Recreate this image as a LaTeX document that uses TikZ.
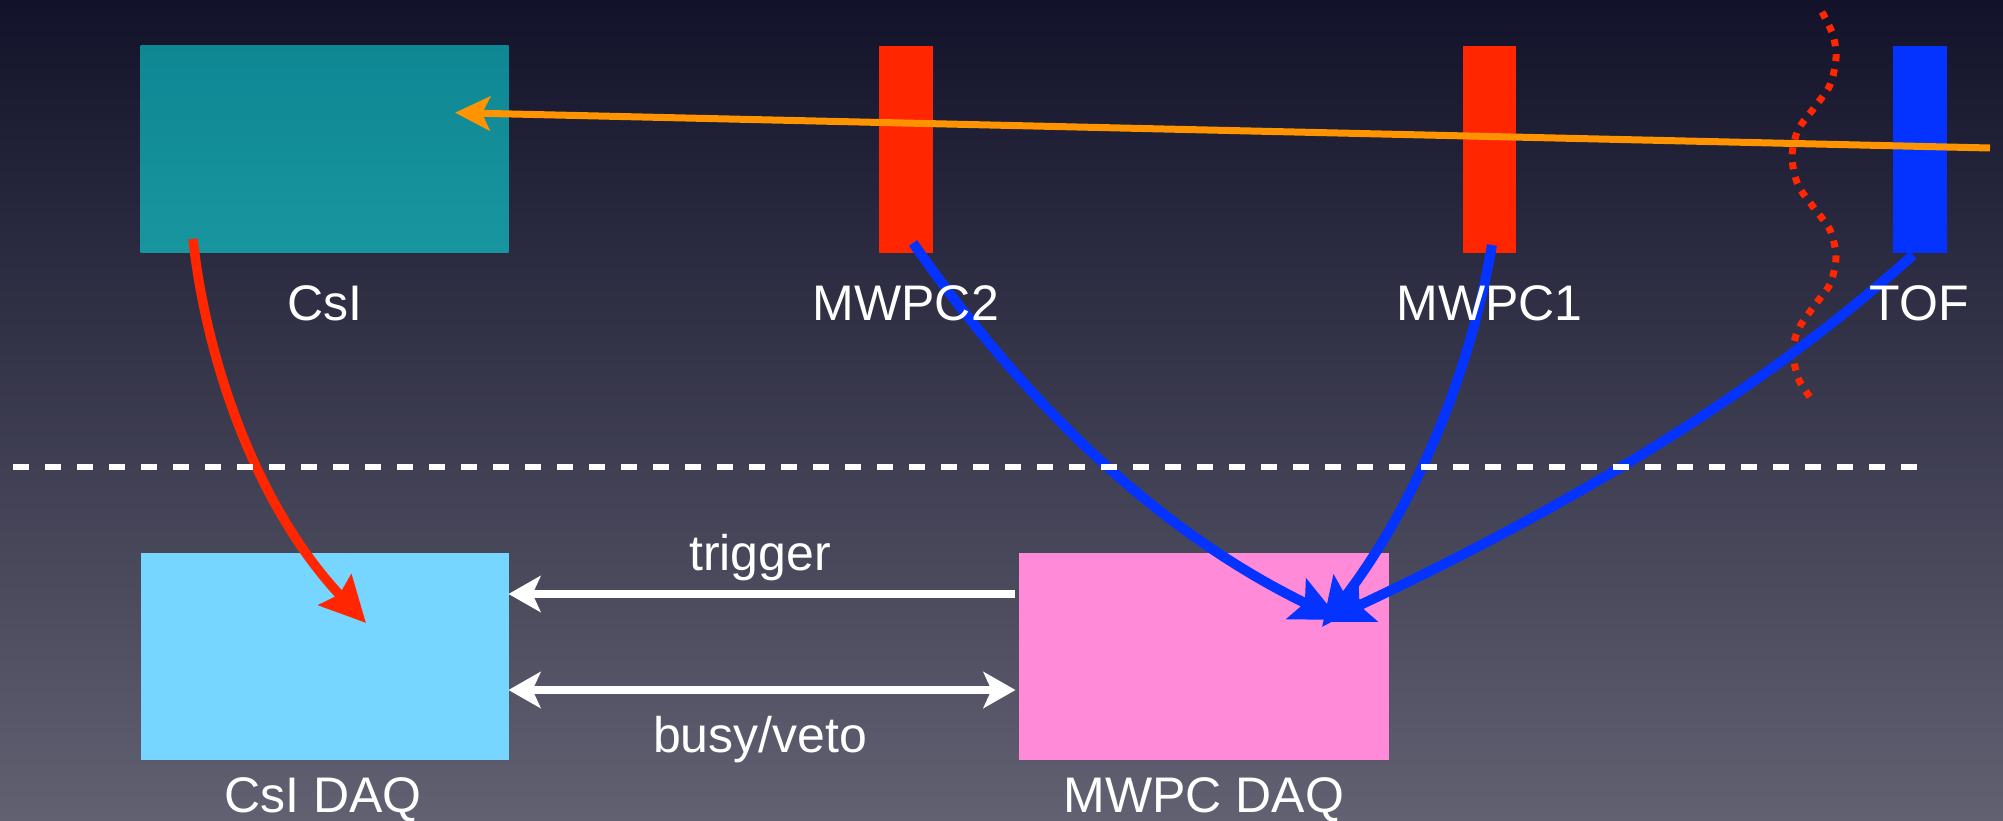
\documentclass[tikz,border=0pt]{standalone}
\usepackage{fontspec}
\setmainfont{Liberation Sans}
\usetikzlibrary{arrows.meta}

\definecolor{bgtop}{RGB}{18,18,42}
\definecolor{bgbot}{RGB}{98,97,114}
\definecolor{csitop}{RGB}{14,135,147}
\definecolor{csibot}{RGB}{24,150,160}
\definecolor{wirered}{RGB}{255,38,0}
\definecolor{tofblue}{RGB}{4,51,255}
\definecolor{skyblue}{RGB}{118,214,255}
\definecolor{daqpink}{RGB}{255,138,216}
\definecolor{beamorange}{RGB}{255,147,0}

\tikzset{
  detector/.style={inner sep=0pt, outer sep=0pt, draw=none, minimum height=207pt},
  lbl/.style={text=white, font=\fontsize{50}{60}\selectfont, anchor=base, inner sep=0pt},
  beamline/.style={draw=beamorange, line width=7pt, -{Stealth[length=35pt,width=34pt,inset=8pt]}},
  readout/.style={draw=tofblue, line width=10pt, -{Stealth[length=48pt,width=44pt,inset=9pt]}},
  csiline/.style={draw=wirered, line width=9.5pt, -{Stealth[length=45pt,width=44pt,inset=6pt]}},
  daqlink/.style={draw=white, line width=7.5pt},
  whitehead/.tip={Stealth[length=32pt,width=36pt,inset=8pt]},
  separator/.style={draw=white, line width=6.5pt, dash pattern=on 16pt off 16pt},
  waveline/.style={draw=wirered, line width=7pt, dash pattern=on 7pt off 8pt}
}

\begin{document}
\begin{tikzpicture}[x=1pt, y=-1pt]
  % background
  \useasboundingbox (0,0) rectangle (2003,821);
  \shade[top color=bgtop, bottom color=bgbot] (0,0) rectangle (2003,821);

  % detectors
  \node[detector, minimum width=368pt, top color=csitop, bottom color=csibot] (csi) at (324.5,149.5) {};
  \node[detector, minimum width=53.5pt, fill=wirered] (mwpc2) at (905.8,149.5) {};
  \node[detector, minimum width=53.5pt, fill=wirered] (mwpc1) at (1489.5,149.5) {};
  \node[detector, minimum width=53.5pt, fill=tofblue] (tof) at (1920,149.5) {};

  % DAQ boxes
  \node[detector, minimum width=368pt, fill=skyblue] (csidaq) at (324.5,656.7) {};
  \node[detector, minimum width=369.5pt, fill=daqpink] (mwpcdaq) at (1204,656.7) {};

  % wavy boundary near TOF
  \draw[waveline] plot[smooth] coordinates {
    (1822,12) (1833,35) (1836,58) (1830,85) (1814,108) (1798,130) (1792,157)
    (1798,185) (1814,208) (1830,230) (1836,257) (1830,284) (1814,306)
    (1799,328) (1793,350) (1798,378) (1812,400)};

  % beam
  \coordinate (beamsrc) at (1990,148);
  \coordinate (csihit) at (455,112.7);
  \draw[beamline] (beamsrc) -- (csihit);

  % readout connections
  \coordinate (csiout) at (193,239);
  \coordinate (csidaqin) at (366,623);
  \draw[csiline] (csiout) .. controls +(12,111) and +(-115,-123) .. (csidaqin);

  \coordinate (mwpc2out) at (913,243);
  \coordinate (mwpc1out) at (1492,245);
  \coordinate (tofout) at (1913,255);
  \coordinate (daqinA) at (1340,620);
  \coordinate (daqinB) at (1322,627);
  \coordinate (daqinC) at (1324,622);
  \draw[readout] (mwpc2out) .. controls +(115,164) and +(-181,-88) .. (daqinA);
  \draw[readout] (mwpc1out) .. controls +(-24,138) and +(90,-118) .. (daqinB);
  \draw[readout] (tofout) .. controls +(-171,154) and +(212,-100) .. (daqinC);

  % separator between detectors and DAQ
  \draw[separator] (13,467) -- (1918,467);

  % DAQ links
  \coordinate (trigsrc) at (1015,594);
  \coordinate (busyend) at (1015.5,690);
  \draw[daqlink, -whitehead] (trigsrc) -- (trigsrc -| csidaq.east);
  \draw[daqlink, whitehead-whitehead] (busyend -| csidaq.east) -- (busyend);

  % labels
  \node[lbl] (lcsi) at (324.5,320) {CsI};
  \node[lbl] (lmwpc2) at (905.8,320) {MWPC2};
  \node[lbl] (lmwpc1) at (1489.5,320) {MWPC1};
  \node[lbl] (ltof) at (1919,320) {TOF};
  \node[lbl] (ltrig) at (760,570) {trigger};
  \node[lbl] (lbusy) at (760,752) {busy/veto};
  \node[lbl] (lcsidaq) at (323,812) {CsI DAQ};
  \node[lbl] (lmwpcdaq) at (1204,812) {MWPC DAQ};
\end{tikzpicture}
\end{document}
